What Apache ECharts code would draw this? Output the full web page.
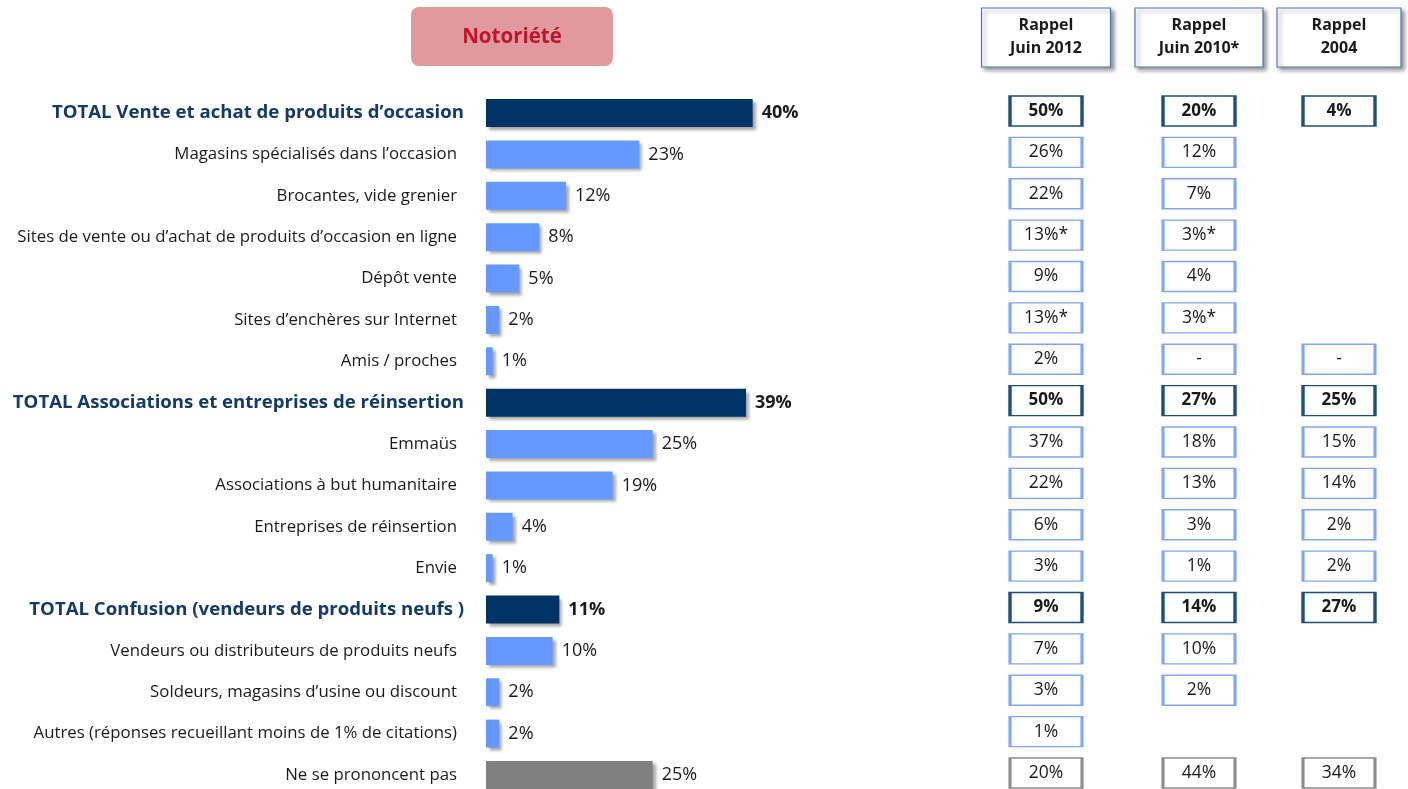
<!DOCTYPE html>
<html>
<head>
<meta charset="utf-8">
<script src="https://cdn.jsdelivr.net/npm/echarts@6/dist/echarts.min.js"></script>
<style>
  html, body { margin: 0; padding: 0; background: #fff; }
  #main { width: 1408px; height: 789px; }
</style>
</head>
<body>
<div id="main"></div>
<script>
// libellés des lignes
var categories = [
    'TOTAL Vente et achat de produits d\u2019occasion',
    'Magasins spécialisés dans l\u2019occasion',
    'Brocantes, vide grenier',
    'Sites de vente ou d\u2019achat de produits d\u2019occasion en ligne',
    'Dépôt vente',
    'Sites d\u2019enchères sur Internet',
    'Amis / proches',
    'TOTAL Associations et entreprises de réinsertion',
    'Emmaüs',
    'Associations à but humanitaire',
    'Entreprises de réinsertion',
    'Envie',
    'TOTAL Confusion (vendeurs de produits neufs )',
    'Vendeurs ou distributeurs de produits neufs',
    'Soldeurs, magasins d\u2019usine ou discount',
    'Autres (réponses recueillant moins de 1% de citations)',
    'Ne se prononcent pas'
];
// notoriété 2013 (%)
var notoriete = [40, 23, 12, 8, 5, 2, 1, 39, 25, 19, 4, 1, 11, 10, 2, 2, 25];
// rappels
var rappel2012 = ['50%', '26%', '22%', '13%*', '9%', '13%*', '2%', '50%', '37%', '22%', '6%', '3%', '9%', '7%', '3%', '1%', '20%'];
var rappel2010 = ['20%', '12%', '7%', '3%*', '4%', '3%*', '-', '27%', '18%', '13%', '3%', '1%', '14%', '10%', '2%', '', '44%'];
var rappel2004 = ['4%', '', '', '', '', '', '-', '25%', '15%', '14%', '2%', '2%', '27%', '', '', '', '34%'];
var colonnes = ['Rappel\nJuin 2012', 'Rappel\nJuin 2010*', 'Rappel\n2004'];
var colCenters = [1046, 1199, 1339];

var FONT = '"Open Sans", sans-serif';

function typeOf(i) {
    if (categories[i].indexOf('TOTAL') === 0) return 'total';
    if (i === categories.length - 1) return 'nsp';
    return 'item';
}
var barColors = { total: '#003366', item: '#6699ff', nsp: '#808080' };
var boxBorders = { total: '#1f4e79', item: '#7fa6f5', nsp: '#8c8c8c' };

var myChart = echarts.init(document.getElementById('main'));

// lignes centrées sur les graduations (premier à 113, dernier à 775)
var TOP = 113, HEIGHT = 662;
var grids = [{ left: 486, top: TOP, width: 400, height: HEIGHT }];
var xAxes = [{ gridIndex: 0, type: 'value', min: 0, max: 60, show: false }];
var yAxes = [{
    gridIndex: 0,
    type: 'category',
    inverse: true,
    boundaryGap: false,
    data: categories,
    axisLine: { show: false },
    axisTick: { show: false },
    axisLabel: {
        margin: 0,
        formatter: function (v) {
            return (v.indexOf('TOTAL') === 0 ? '{t|' : '{n|') + v + '}';
        },
        rich: {
            t: { fontFamily: FONT, fontSize: 18.6, fontWeight: 'bold', color: '#123a6a', padding: [0, 22, 0, 0] },
            n: { fontFamily: FONT, fontSize: 16.8, color: '#1a1a1a', padding: [0, 29, 0, 0] }
        }
    }
}];

var series = [{
    type: 'bar',
    xAxisIndex: 0,
    yAxisIndex: 0,
    barWidth: 28,
    data: notoriete.map(function (v, i) {
        var t = typeOf(i);
        return {
            value: v,
            itemStyle: { color: barColors[t] },
            label: { fontWeight: t === 'total' ? 'bold' : 'normal' }
        };
    }),
    itemStyle: {
        shadowBlur: 3,
        shadowOffsetX: 3,
        shadowOffsetY: 3,
        shadowColor: 'rgba(0,0,0,0.35)'
    },
    label: {
        show: true,
        position: 'right',
        distance: 9,
        color: '#1a1a1a',
        fontFamily: FONT,
        fontSize: 18,
        formatter: '{c}%'
    }
}];

// colonnes de rappel : une grille par colonne
[rappel2012, rappel2010, rappel2004].forEach(function (arr, k) {
    var g = k + 1;
    grids.push({ left: colCenters[k] - 40, top: TOP, width: 80, height: HEIGHT });
    xAxes.push({ gridIndex: g, type: 'value', min: 0, max: 1, show: false });
    yAxes.push({ gridIndex: g, type: 'category', inverse: true, boundaryGap: false, data: categories, show: false });
    var pts = [];
    arr.forEach(function (txt, i) {
        if (!txt) return;
        var t = typeOf(i);
        pts.push({
            value: [0.5, i],
            txt: txt,
            itemStyle: {
                borderColor: boxBorders[t],
                borderWidth: t === 'total' ? 2.2 : 2
            },
            label: { fontWeight: t === 'total' ? 'bold' : 'normal', fontSize: t === 'total' ? 17 : 17.5 }
        });
    });
    series.push({
        type: 'scatter',
        xAxisIndex: g,
        yAxisIndex: g,
        symbol: 'rect',
        symbolSize: [72, 30],
        symbolOffset: [0, -2],
        itemStyle: { color: '#fff', opacity: 1 },
        label: {
            show: true,
            position: 'inside',
            color: '#1a1a1a',
            fontFamily: FONT,
            formatter: function (p) { return p.data.txt; }
        },
        data: pts
    });
});

var graphics = [{
    type: 'rect',
    shape: { x: 411, y: 7, width: 202, height: 59, r: 8 },
    style: { fill: '#e0999f' }
}, {
    type: 'text',
    x: 512, y: 37,
    style: {
        text: 'Notoriété',
        fill: '#c0142b',
        font: 'bold 20.5px ' + FONT,
        align: 'center',
        verticalAlign: 'middle'
    }
}];
var headW = [129, 128, 124];
colonnes.forEach(function (c, k) {
    graphics.push({
        type: 'rect',
        shape: { x: colCenters[k] - headW[k] / 2, y: 8, width: headW[k], height: 59 },
        style: {
            fill: '#fff',
            stroke: '#4f79b5',
            lineWidth: 1.2,
            shadowBlur: 4,
            shadowOffsetX: 3,
            shadowOffsetY: 3,
            shadowColor: 'rgba(0,0,0,0.4)'
        }
    });
    graphics.push({
        type: 'text',
        x: colCenters[k], y: 37,
        style: {
            text: c,
            fill: '#1a1a1a',
            font: 'bold 16px ' + FONT,
            lineHeight: 23,
            align: 'center',
            verticalAlign: 'middle'
        }
    });
});

var option = {
    backgroundColor: '#fff',
    animation: false,
    grid: grids,
    xAxis: xAxes,
    yAxis: yAxes,
    series: series,
    graphic: graphics
};
myChart.setOption(option);
</script>
</body>
</html>
